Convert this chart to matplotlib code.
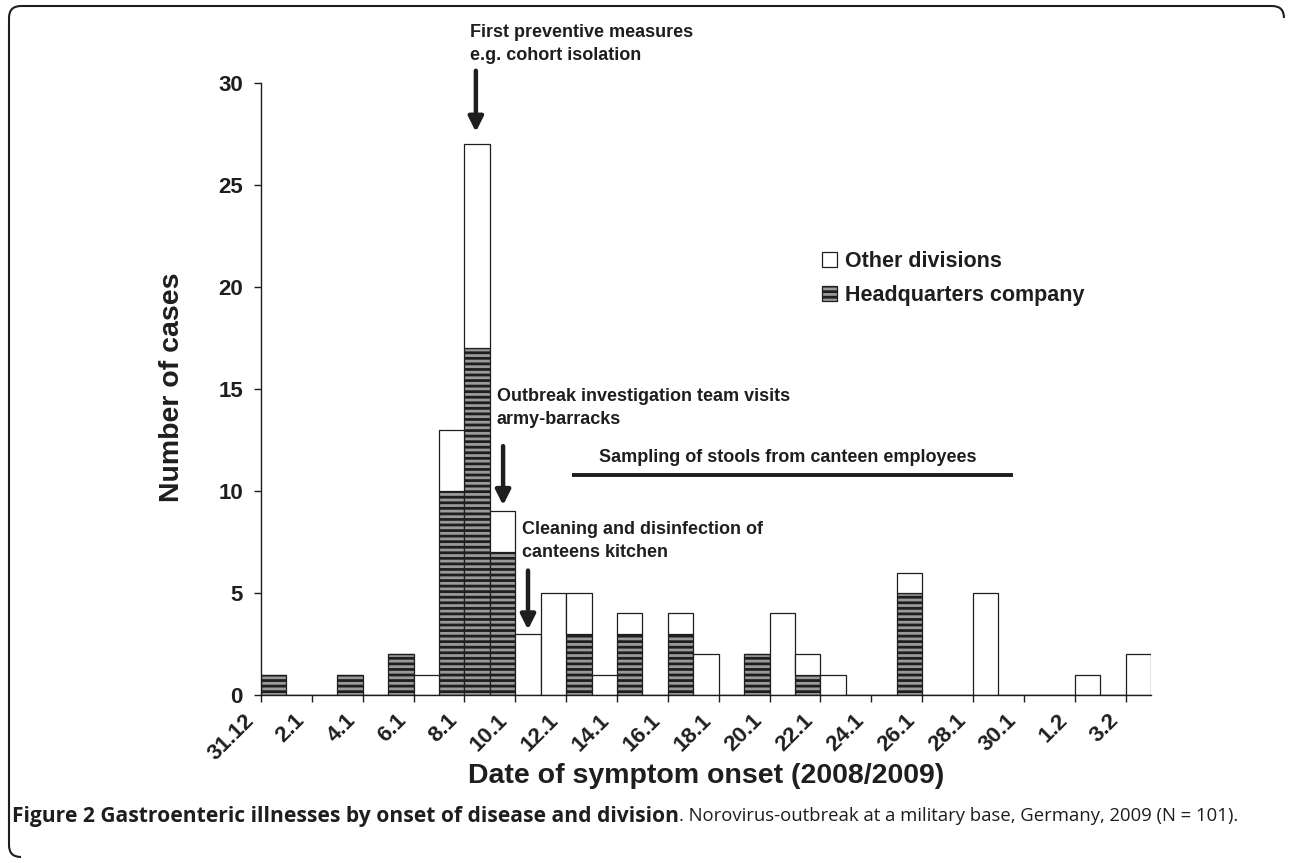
import numpy as np
import matplotlib
matplotlib.use("Agg")
import matplotlib.pyplot as plt
from matplotlib.patches import Patch, PathPatch
from matplotlib.path import Path
from matplotlib.transforms import Affine2D, ScaledTranslation
from matplotlib import font_manager

W, H = 1292, 863
INK = "#1f1d1e"
HQ_FACE = "#9a9a9a"

plt.rcParams["font.family"] = ["Liberation Sans", "DejaVu Sans"]
plt.rcParams["hatch.linewidth"] = 2.0

# cases per day of symptom onset, 31.12 .. 3.2 (35 days)
hq_cases = [1, 0, 0, 1, 0, 2, 0, 10, 17, 7,
            0, 0, 3, 0, 3, 0, 3, 0, 0, 2,
            0, 1, 0, 0, 0, 5, 0, 0, 0, 0,
            0, 0, 0, 0, 0]
other_cases = [0, 0, 0, 0, 0, 0, 1, 3, 10, 2,
               3, 5, 2, 1, 1, 0, 1, 2, 0, 0,
               4, 1, 1, 0, 0, 1, 0, 0, 5, 0,
               0, 0, 1, 0, 2]
tick_labels = ["31.12", "2.1", "4.1", "6.1", "8.1", "10.1", "12.1", "14.1", "16.1",
               "18.1", "20.1", "22.1", "24.1", "26.1", "28.1", "30.1", "1.2", "3.2"]
series_names = ["Other divisions", "Headquarters company"]

fig = plt.figure(figsize=(W / 100, H / 100), dpi=100)
ax = fig.add_axes([261 / W, 1 - 695 / H, 890 / W, (695 - 83) / H])

days = np.arange(len(hq_cases))
ax.bar(days, hq_cases, width=1, align="edge", color=HQ_FACE, edgecolor=INK,
       hatch="---", lw=0.9)
ax.bar(days, other_cases, bottom=hq_cases, width=1, align="edge", color="white",
       edgecolor=INK, lw=0.9)

ax.set_xlim(0, len(days))
ax.set_ylim(0, 30)
for s in ["top", "right"]:
    ax.spines[s].set_visible(False)
for s in ["left", "bottom"]:
    ax.spines[s].set_linewidth(1.0)
    ax.spines[s].set_color(INK)

ax.set_yticks(range(0, 31, 5))
ax.set_yticklabels([str(v) for v in range(0, 31, 5)], fontweight="bold", fontsize=16, color=INK)
ax.tick_params(axis="y", length=5, width=1, pad=8, colors=INK)

ax.set_xticks(days[::2])
ax.set_xticklabels(tick_labels, rotation=45, ha="right", va="top",
                   fontweight="bold", fontsize=16, color=INK)
ax.tick_params(axis="x", length=5, width=1, pad=3, colors=INK)
shift = ScaledTranslation(-3 / 100, -4 / 100, fig.dpi_scale_trans)
for lbl in ax.get_xticklabels():
    lbl.set_transform(lbl.get_transform() + shift)

fig.text(706 / W, 1 - 776 / H, "Date of symptom onset (2008/2009)", ha="center", va="center",
         fontsize=20.5, fontweight="bold", color=INK)
fig.text(172 / W, 1 - 387 / H, "Number of cases", ha="center", va="center", rotation=90,
         fontsize=20.5, fontweight="bold", color=INK)

# event annotations
arrow = dict(arrowstyle="-|>", lw=3.2, color=INK, mutation_scale=22, shrinkA=0, shrinkB=0)
events = [
    (8.45, 30.6, 27.6, 8.22, 31.9, "First preventive measures\ne.g. cohort isolation"),
    (9.52, 12.2, 9.3, 9.28, 14.07, "Outbreak investigation team visits\narmy-barracks"),
    (10.5, 6.1, 3.2, 10.26, 7.55, "Cleaning and disinfection of\ncanteens kitchen"),
]
for ax_x, y0, y1, tx, ty, txt in events:
    ax.annotate("", xy=(ax_x, y1), xytext=(ax_x, y0), arrowprops=arrow, annotation_clip=False)
    ax.text(tx, ty, txt, ha="left", va="center", fontsize=13, fontweight="bold",
            linespacing=1.45, color=INK, clip_on=False)

ax.plot([12.23, 29.57], [10.78, 10.78], color=INK, lw=2.8, solid_capstyle="butt")
ax.text(20.72, 11.62, "Sampling of stools from canteen employees", ha="center", va="center",
        fontsize=13, fontweight="bold", color=INK)

handles = [Patch(facecolor="white", edgecolor=INK, lw=0.9, label=series_names[0]),
           Patch(facecolor=HQ_FACE, edgecolor=INK, lw=0.9, hatch="---", label=series_names[1])]
fig.legend(handles=handles, loc="upper left", bbox_to_anchor=(822 / W, 1 - 251 / H),
           frameon=False, prop=dict(weight="bold", size=15.5), labelcolor=INK,
           handlelength=0.7, handleheight=0.7, handletextpad=0.35, labelspacing=0.62,
           borderpad=0, borderaxespad=0)

# rounded frame (top and left sides visible)
verts = [(1284, 18), (1284, 6), (1272, 6), (21, 6), (9, 6), (9, 18),
         (9, 845), (9, 857), (21, 857)]
codes = [Path.MOVETO, Path.CURVE3, Path.CURVE3, Path.LINETO, Path.CURVE3, Path.CURVE3,
         Path.LINETO, Path.CURVE3, Path.CURVE3]
px_to_fig = Affine2D().scale(1 / W, -1 / H).translate(0, 1) + fig.transFigure
fig.patches.append(PathPatch(Path(verts, codes), transform=px_to_fig, fill=False,
                             lw=1.5, edgecolor=INK))

# caption: bold lead then regular text, each sized to its span in the reference
names = {f.name for f in font_manager.fontManager.ttflist}
cap_font = ["Open Sans", "DejaVu Sans"] if "Open Sans" in names else ["Liberation Sans"]
bold_part = "Figure 2 Gastroenteric illnesses by onset of disease and division"
reg_part = ". Norovirus-outbreak at a military base, Germany, 2009 (N = 101)."
renderer = fig.canvas.get_renderer()
cy = 1 - 816 / H
t1 = fig.text(12 / W, cy, bold_part, fontsize=12, fontweight="bold", family=cap_font,
              va="center", color=INK)
t2 = fig.text(0, cy, reg_part, fontsize=12, family=cap_font, va="center", color=INK)
t1.set_fontsize(12 * 664 / t1.get_window_extent(renderer).width)
t2.set_fontsize(12 * 556 / t2.get_window_extent(renderer).width)
t2.set_x(t1.get_window_extent(renderer).x1 / W)

fig.savefig("out.png", dpi=100)
